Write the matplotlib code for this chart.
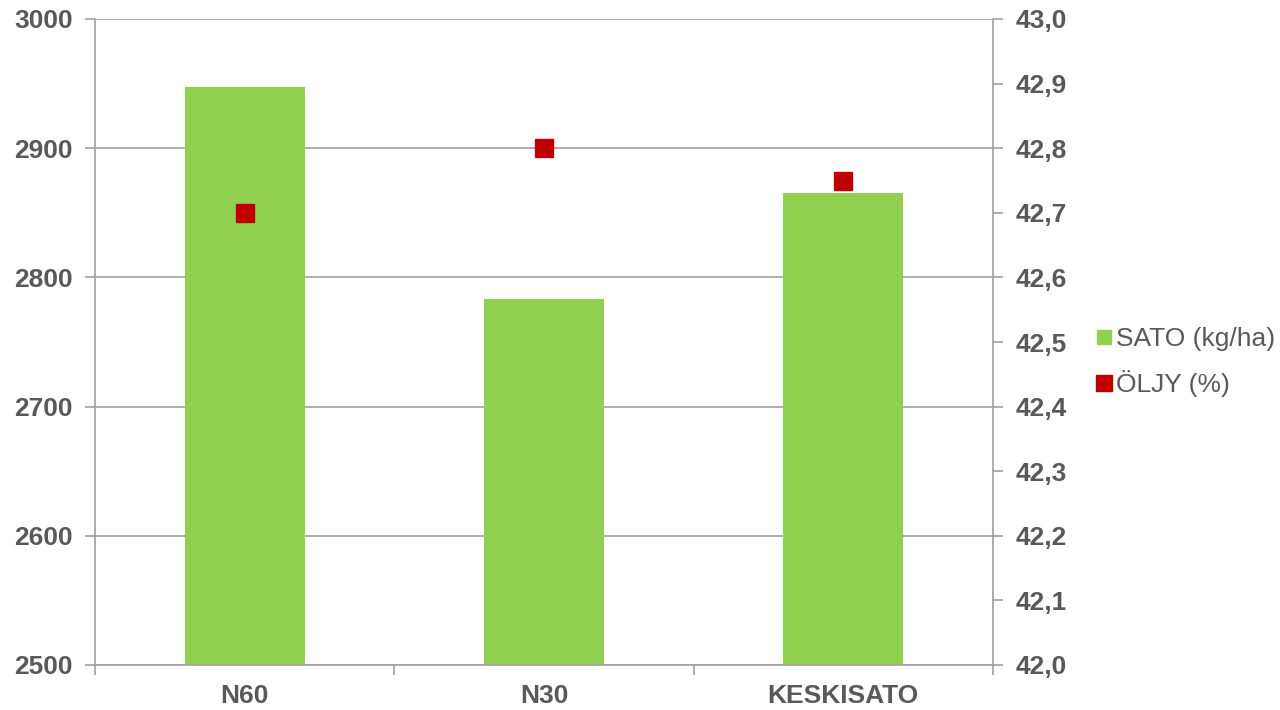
import matplotlib
matplotlib.use("Agg")
import matplotlib.pyplot as plt
from matplotlib.lines import Line2D
from matplotlib.ticker import FuncFormatter

# Data
categories = ["N60", "N30", "KESKISATO"]
sato = [2947, 2783, 2865]      # SATO (kg/ha), left axis
oljy = [42.70, 42.80, 42.75]   # ÖLJY (%), right axis

plt.rcParams["font.family"] = ["Liberation Sans", "DejaVu Sans"]
text_col = "#595959"
axis_col = "#A0A0A0"
green = "#92D050"
red = "#C00000"

fig = plt.figure(figsize=(12.8, 7.1), dpi=100)
ax = fig.add_axes([95 / 1280, 45 / 710, 898 / 1280, 646 / 710])

x = list(range(len(categories)))
ax.bar(x, sato, width=0.4, color=green, zorder=2)
ax.set_xlim(-0.5, 2.5)
ax.set_ylim(2500, 3000)
ax.set_yticks(range(2500, 3001, 100))
ax.grid(axis="y", color=axis_col, linewidth=1.2, zorder=0)
ax.set_axisbelow(True)

ax.set_xticks(x)
ax.set_xticklabels(categories)
ax.set_xticks([-0.5, 0.5, 1.5, 2.5], minor=True)
ax.tick_params(axis="x", which="major", length=0, pad=14)
ax.tick_params(axis="x", which="minor", length=7, width=1.2, color=axis_col)
ax.tick_params(axis="y", length=7, width=1.2, color=axis_col, pad=9)

for s in ["top", "right"]:
    ax.spines[s].set_visible(False)
for s in ["left", "bottom"]:
    ax.spines[s].set_color(axis_col)
    ax.spines[s].set_linewidth(1.2)

ax2 = ax.twinx()
ax2.plot(x, oljy, linestyle="none", marker="s", markersize=13, color=red, zorder=3)
ax2.set_ylim(42.0, 43.0)
ax2.set_yticks([42.0 + i * 0.1 for i in range(11)])
ax2.yaxis.set_major_formatter(FuncFormatter(lambda v, p: f"{v:.1f}".replace(".", ",")))
ax2.tick_params(axis="y", length=7, width=1.2, color=axis_col, pad=9)
for s in ["top", "left", "bottom"]:
    ax2.spines[s].set_visible(False)
ax2.spines["right"].set_color(axis_col)
ax2.spines["right"].set_linewidth(1.2)

for a in (ax, ax2):
    for lab in a.get_xticklabels() + a.get_yticklabels():
        lab.set_fontsize(19)
        lab.set_fontweight("bold")
        lab.set_color(text_col)

handles = [
    Line2D([], [], linestyle="none", marker="s", markersize=10, color=green),
    Line2D([], [], linestyle="none", marker="s", markersize=11, color=red),
]
leg = fig.legend(handles, ["SATO (kg/ha)", "ÖLJY (%)"], loc="center left",
                 bbox_to_anchor=(1083 / 1280, 1 - 362 / 710), frameon=False,
                 fontsize=19, handlelength=0.6, handletextpad=0.15,
                 labelspacing=0.7, borderpad=0)
for t in leg.get_texts():
    t.set_color(text_col)

fig.savefig("out.png", dpi=100)
